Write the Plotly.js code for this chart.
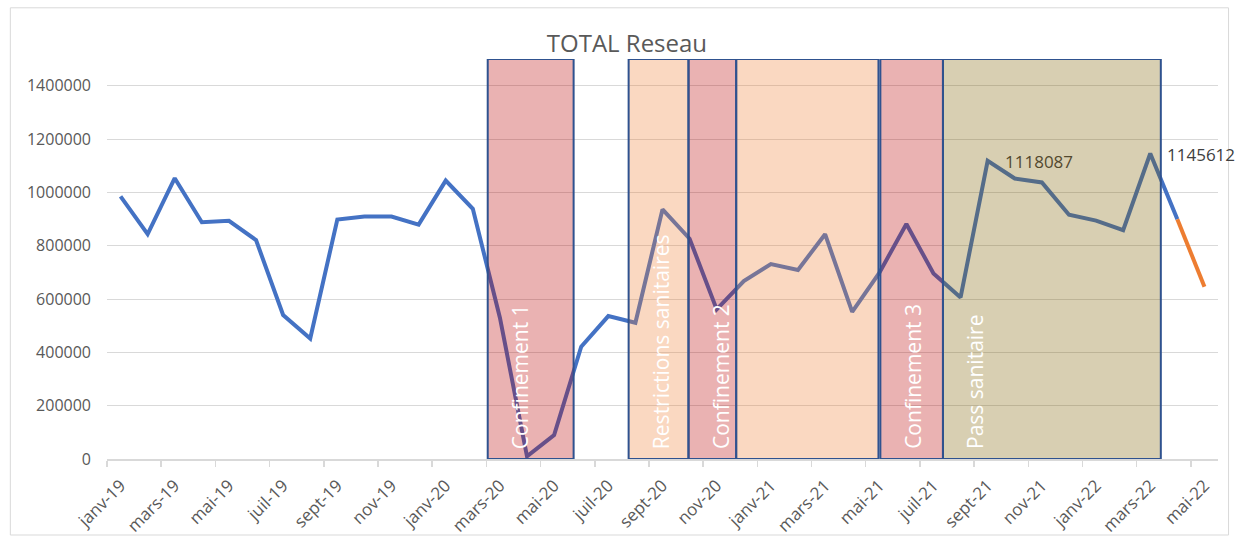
<!DOCTYPE html>
<html>
<head>
<meta charset="utf-8">
<script src="https://cdn.plot.ly/plotly-3.0.1.min.js"></script>
<style>
  html, body { margin: 0; padding: 0; background: #ffffff; }
  #chart { width: 1238px; height: 541px; }
</style>
</head>
<body>
<div id="chart"></div>
<script>
// ---- Data ----
const months = [
  'janv-19','févr-19','mars-19','avr-19','mai-19','juin-19','juil-19','août-19','sept-19','oct-19','nov-19','déc-19',
  'janv-20','févr-20','mars-20','avr-20','mai-20','juin-20','juil-20','août-20','sept-20','oct-20','nov-20','déc-20',
  'janv-21','févr-21','mars-21','avr-21','mai-21','juin-21','juil-21','août-21','sept-21','oct-21','nov-21','déc-21',
  'janv-22','févr-22','mars-22','avr-22','mai-22'
];

const totalReseau = [
  985000, 843000, 1053000, 888000, 893000, 821000, 540000, 452000, 898000, 909000, 909000, 879000,
  1044000, 938000, 530000, 10000, 90000, 421000, 536000, 511000, 936000, 826000, 561000, 667000,
  731000, 709000, 843000, 552000, 698000, 881000, 696000, 606000, 1118087, 1052000, 1037000, 916000,
  894000, 858000, 1145612, 899000, null
];

const projection = [
  null, null, null, null, null, null, null, null, null, null, null, null,
  null, null, null, null, null, null, null, null, null, null, null, null,
  null, null, null, null, null, null, null, null, null, null, null, null,
  null, null, null, 899000, 646000
];

const labelledPoints = ['sept-21', 'mars-22'];

// Periods (positions in category index units)
const periodNames  = ['Confinement 1', 'Restrictions sanitaires', 'Confinement 2', '', 'Confinement 3', 'Pass sanitaire'];
const periodStart  = [13.55, 18.75, 20.96, 22.72, 28.04, 30.35];
const periodEnd    = [16.72, 20.96, 22.72, 27.97, 30.35, 38.39];
const periodKind   = ['confinement', 'restrictions', 'confinement', 'restrictions', 'confinement', 'pass'];

// ---- Styles ----
const kindFill = {
  confinement:  'rgba(186,0,0,0.30)',
  restrictions: 'rgba(237,125,49,0.30)',
  pass:         'rgba(127,96,0,0.30)'
};
// data-label colours: as seen through the translucent period overlay, and plain
const labelColors = ['#53492e', '#404040'];
const FONT = '"Open Sans", "Segoe UI", Calibri, sans-serif';

const traces = [
  {
    type: 'scatter',
    mode: 'lines',
    x: months,
    y: totalReseau,
    line: { color: '#4472C4', width: 4 },
    hoverinfo: 'x+y',
    showlegend: false
  },
  {
    type: 'scatter',
    mode: 'lines',
    x: months,
    y: projection,
    line: { color: '#ED7D31', width: 4 },
    hoverinfo: 'x+y',
    showlegend: false
  }
];

const shapes = periodStart.map((s, i) => ({
  type: 'rect',
  layer: 'above',
  xref: 'x', yref: 'y',
  x0: s, x1: periodEnd[i],
  y0: 0, y1: 1500000,
  fillcolor: kindFill[periodKind[i]],
  line: { color: '#2F528F', width: 2 }
}));

// outer chart border
shapes.push({
  type: 'rect', layer: 'below',
  xref: 'paper', yref: 'paper',
  x0: -0.087, x1: 1.0095, y0: -0.19, y1: 1.128,
  fillcolor: 'rgba(0,0,0,0)',
  line: { color: '#d9d9d9', width: 1 }
});

const annotations = periodNames.map((name, i) => ({
  text: name,
  xref: 'x', yref: 'y',
  x: periodStart[i], y: 30000,
  xshift: 32,
  xanchor: 'center', yanchor: 'bottom',
  textangle: -90,
  showarrow: false,
  font: { family: FONT, size: 21, color: '#ffffff' }
})).filter(a => a.text !== '');

labelledPoints.forEach((m, k) => {
  const i = months.indexOf(m);
  annotations.push({
    text: String(totalReseau[i]),
    xref: 'x', yref: 'y',
    x: m, y: totalReseau[i],
    xanchor: 'left', yanchor: 'middle',
    xshift: 15, yshift: -1,
    showarrow: false,
    font: { family: FONT, size: 17, color: labelColors[k] }
  });
});

const layout = {
  width: 1238,
  height: 541,
  margin: { l: 107, r: 20, t: 59, b: 82 },
  paper_bgcolor: '#ffffff',
  plot_bgcolor: '#ffffff',
  title: {
    text: 'TOTAL Reseau',
    font: { family: FONT, size: 24, color: '#595959' },
    xref: 'paper', x: 0.468, xanchor: 'center',
    yref: 'container', y: 0.919, yanchor: 'middle'
  },
  xaxis: {
    type: 'category',
    range: [-0.5, 40.5],
    tickmode: 'linear', tick0: 0, dtick: 2,
    tickson: 'boundaries',
    ticks: 'outside', ticklen: 6, tickcolor: '#d9d9d9', tickwidth: 1.5,
    tickangle: -45,
    ticklabelstandoff: 8,
    showgrid: false,
    showline: true, linecolor: '#d9d9d9', linewidth: 2,
    zeroline: false,
    tickfont: { family: FONT, size: 17, color: '#595959' },
    fixedrange: true
  },
  yaxis: {
    range: [0, 1500000],
    tickmode: 'linear', tick0: 0, dtick: 200000,
    tickformat: 'd',
    showgrid: true, gridcolor: '#d9d9d9', gridwidth: 1,
    zeroline: false,
    showline: false,
    ticks: '',
    ticklabelstandoff: 15,
    tickfont: { family: FONT, size: 16, color: '#595959' },
    fixedrange: true
  },
  shapes: shapes,
  annotations: annotations,
  showlegend: false
};

Plotly.newPlot('chart', traces, layout, { displayModeBar: false, staticPlot: true });
</script>
</body>
</html>
